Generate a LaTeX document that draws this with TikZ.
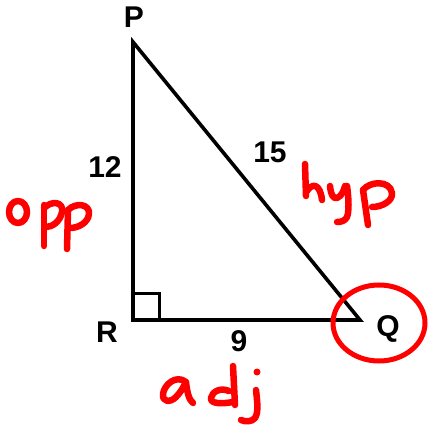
\documentclass[tikz,border=0pt]{standalone}
\usepackage{fontspec}
\setmainfont{Liberation Sans}
\usetikzlibrary{calc}
\begin{document}
\begin{tikzpicture}[x=1pt,y=-1pt,
  edge/.style={line width=3.6pt, line join=miter},
  lbl/.style={font=\bfseries\fontsize{30}{30}\selectfont, anchor=base, inner sep=0pt},
  hand/.style={red, line width=6.5pt, line cap=round, line join=round}]
\useasboundingbox (0,0) rectangle (428,427);
\coordinate (P) at (133,42);
\coordinate (R) at (133,320);
\coordinate (Q) at (360,320);
\draw[edge] (P) -- (R) -- (Q) -- cycle;
\draw[line width=3pt] ($(R)+(0,-26)$) -- ++(26,0) -- ++(0,26);
% labels
\node[lbl] (lP) at (134,28) {P};
\node[lbl] (lR) at (107,342) {R};
\node[lbl] (lQ) at (388,336) {Q};
\node[lbl] (l12) at (105,178) {12};
\node[lbl] (l15) at (270,163) {15};
\node[lbl] (l9) at (239,351) {9};
% red circle around Q
\draw[red, line width=5pt] (379,323) ellipse [x radius=46, y radius=38];
% opp
\draw[hand] (18,212) ellipse [x radius=9, y radius=11];
\draw[hand] (44,205) -- (44,246);
\draw[hand] (44,208) .. controls (52,200) and (64,202) .. (62,212) .. controls (60,222) and (52,227) .. (46,227);
\draw[hand] (68,210) -- (67,249);
\draw[hand] (68,210) .. controls (76,202) and (90,204) .. (89,214) .. controls (88,223) and (78,228) .. (70,228);
% hyp
\draw[hand] (305,164) -- (306,196);
\draw[hand] (307,191) .. controls (312,183) and (320,183) .. (322,200);
\draw[hand] (330,186) .. controls (331,196) and (334,199) .. (337,198) .. controls (342,196) and (344,190) .. (345,186);
\draw[hand] (347,186) .. controls (349,200) and (349,212) .. (347,217) .. controls (345,221) and (341,222) .. (337,222);
\draw[hand] (363,190) -- (368,225);
\draw[hand] (363,190) .. controls (370,181) and (390,180) .. (392,193) .. controls (393,201) and (382,207) .. (372,207);
% adj
\draw[hand] (186,382) .. controls (176,374) and (164,385) .. (163,394) .. controls (162,402) and (170,403) .. (176,397) .. controls (181,392) and (184,386) .. (186,382) .. controls (187,392) and (189,400) .. (193,403);
\draw[hand] (229,391) .. controls (220,387) and (212,392) .. (211,398) .. controls (210,404) and (222,404) .. (233,402);
\draw[hand] (233,366) -- (235,405);
\fill[red] (257,372) circle (3.5pt);
\draw[hand] (256,390) .. controls (257,400) and (259,412) .. (255,418) .. controls (252,422) and (245,422) .. (241,420);
\end{tikzpicture}
\end{document}
